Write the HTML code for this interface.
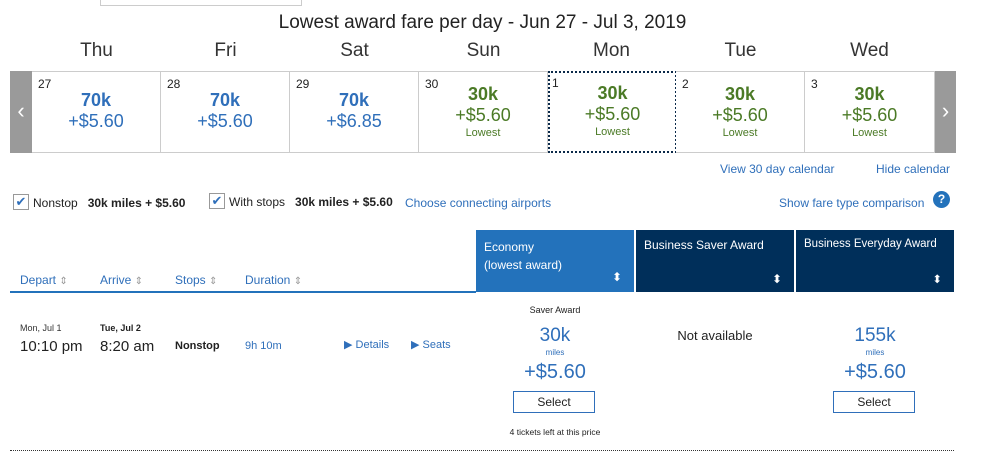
<!DOCTYPE html>
<html><head><meta charset="utf-8"><style>
body{margin:0;width:986px;height:452px;background:#fff;font-family:"Liberation Sans",sans-serif;position:relative;overflow:hidden;color:#222}
.a{position:absolute}
.c{text-align:center}
.day{top:40px;font-size:19px;color:#333;width:129px}
.cell{top:71px;height:80px;width:128px;border:1px solid #ccc;border-left:none;background:#fff}
.num{left:6px;top:5px;font-size:12px;color:#222}
.mi{top:18px;width:100%;font-size:18px;font-weight:bold}
.pr{top:39px;width:100%;font-size:18px}
.lo{top:61px;width:100%;font-size:11px}
.b{color:#2f6fba}.g{color:#4b7a26}
.link{color:#2f6fba;font-size:12px}
.hd{top:230px;height:62px;color:#fff;font-size:12px;box-sizing:border-box;padding:8px 8px;white-space:nowrap}
.sort{font-size:10px}
.col{color:#2f6fba;font-size:12px;top:273px}
.btn{width:82px;height:22px;border:1px solid #2f6fba;box-sizing:border-box;font-size:12px;line-height:20px;text-align:center;color:#222;background:#fff}
</style></head><body>
<div class="a" style="left:100px;top:-2px;width:200px;height:6px;border:1px solid #ccc;"></div>
<div class="a c" style="left:0;width:965px;top:12px;font-size:19px;color:#222">Lowest award fare per day - Jun 27 - Jul 3, 2019</div>

<div class="a c day" style="left:32px">Thu</div>
<div class="a c day" style="left:161px">Fri</div>
<div class="a c day" style="left:290px">Sat</div>
<div class="a c day" style="left:419px">Sun</div>
<div class="a c day" style="left:547px">Mon</div>
<div class="a c day" style="left:676px">Tue</div>
<div class="a c day" style="left:805px">Wed</div>

<div class="a c" style="left:10px;top:71px;width:22px;height:82px;background:#9a9a9a;color:#fff;font-size:22px;line-height:80px">‹</div>
<div class="a c" style="left:935px;top:71px;width:21px;height:82px;background:#9a9a9a;color:#fff;font-size:22px;line-height:80px">›</div>

<div class="a cell" style="left:32px;border-left:none"><div class="a num">27</div><div class="a c mi b">70k</div><div class="a c pr b">+$5.60</div></div>
<div class="a cell" style="left:161px"><div class="a num">28</div><div class="a c mi b">70k</div><div class="a c pr b">+$5.60</div></div>
<div class="a cell" style="left:290px"><div class="a num">29</div><div class="a c mi b">70k</div><div class="a c pr b">+$6.85</div></div>
<div class="a cell" style="left:419px"><div class="a num">30</div><div class="a c mi g" style="top:12px">30k</div><div class="a c pr g" style="top:33px">+$5.60</div><div class="a c lo g" style="top:55px">Lowest</div></div>
<div class="a cell" style="left:548px;border:2px dotted #0b2a4a;width:125px;height:78px;top:71px"><div class="a num" style="left:2px;top:3px">1</div><div class="a c mi g" style="top:10px">30k</div><div class="a c pr g" style="top:31px">+$5.60</div><div class="a c lo g" style="top:53px">Lowest</div></div>
<div class="a cell" style="left:676px"><div class="a num">2</div><div class="a c mi g" style="top:12px">30k</div><div class="a c pr g" style="top:33px">+$5.60</div><div class="a c lo g" style="top:55px">Lowest</div></div>
<div class="a cell" style="left:805px;width:129px"><div class="a num">3</div><div class="a c mi g" style="top:12px">30k</div><div class="a c pr g" style="top:33px">+$5.60</div><div class="a c lo g" style="top:55px">Lowest</div></div>

<div class="a link" style="left:720px;top:162px">View 30 day calendar</div>
<div class="a link" style="left:876px;top:162px">Hide calendar</div>

<div class="a" style="left:13px;top:194px;width:14px;height:14px;border:1px solid #999;color:#2f6fba;font-size:13px;line-height:14px;text-align:center">✔</div>
<div class="a" style="left:33px;top:196px;font-size:12px;white-space:nowrap">Nonstop &nbsp;&nbsp;<b>30k miles + $5.60</b></div>
<div class="a" style="left:209px;top:193px;width:14px;height:14px;border:1px solid #999;color:#2f6fba;font-size:13px;line-height:14px;text-align:center">✔</div>
<div class="a" style="left:229px;top:195px;font-size:12px;white-space:nowrap">With stops &nbsp;&nbsp;<b>30k miles + $5.60</b></div>
<div class="a link" style="left:405px;top:196px">Choose connecting airports</div>
<div class="a link" style="left:779px;top:196px">Show fare type comparison</div>
<div class="a c" style="left:933px;top:191px;width:17px;height:17px;border-radius:50%;background:#2372bb;color:#fff;font-size:12px;font-weight:bold;line-height:17px">?</div>

<div class="a col" style="left:20px">Depart <span class="sort" style="color:#999">⇕</span></div>
<div class="a col" style="left:100px">Arrive <span class="sort" style="color:#999">⇕</span></div>
<div class="a col" style="left:175px">Stops <span class="sort" style="color:#999">⇕</span></div>
<div class="a col" style="left:245px">Duration <span class="sort" style="color:#999">⇕</span></div>
<div class="a" style="left:10px;top:291px;width:466px;height:2px;background:#2372bb"></div>

<div class="a hd" style="left:476px;width:158px;background:#2372bb;line-height:18px">Economy<br>(lowest award)<span class="a" style="right:12px;bottom:6px">⬍</span></div>
<div class="a hd" style="left:636px;width:158px;background:#002f5a">Business Saver Award<span class="a" style="right:12px;bottom:6px">⬍</span></div>
<div class="a hd" style="left:796px;width:158px;background:#002f5a;font-size:11.5px">Business Everyday Award<span class="a" style="right:12px;bottom:6px">⬍</span></div>

<div class="a" style="left:20px;top:323px;font-size:9px;color:#333">Mon, Jul 1</div>
<div class="a" style="left:20px;top:338px;font-size:15px">10:10 pm</div>
<div class="a" style="left:100px;top:323px;font-size:9px;font-weight:bold">Tue, Jul 2</div>
<div class="a" style="left:100px;top:338px;font-size:15px">8:20 am</div>
<div class="a" style="left:175px;top:340px;font-size:11px;font-weight:bold">Nonstop</div>
<div class="a" style="left:245px;top:340px;font-size:11px;color:#2f6fba">9h 10m</div>
<div class="a" style="left:344px;top:338px;font-size:11px;color:#2f6fba">▶ Details</div>
<div class="a" style="left:411px;top:338px;font-size:11px;color:#2f6fba">▶ Seats</div>

<div class="a c" style="left:476px;width:158px;top:305px;font-size:9px">Saver Award</div>
<div class="a c" style="left:476px;width:158px;top:325px;font-size:19px;color:#2f6fba">30k</div>
<div class="a c" style="left:476px;width:158px;top:348px;font-size:8px;color:#2f6fba">miles</div>
<div class="a c" style="left:476px;width:158px;top:361px;font-size:20px;color:#2f6fba">+$5.60</div>
<div class="a btn" style="left:513px;top:391px">Select</div>
<div class="a c" style="left:476px;width:158px;top:427px;font-size:8.5px">4 tickets left at this price</div>

<div class="a c" style="left:636px;width:158px;top:328px;font-size:13px">Not available</div>

<div class="a c" style="left:796px;width:158px;top:325px;font-size:19px;color:#2f6fba">155k</div>
<div class="a c" style="left:796px;width:158px;top:348px;font-size:8px;color:#2f6fba">miles</div>
<div class="a c" style="left:796px;width:158px;top:361px;font-size:20px;color:#2f6fba">+$5.60</div>
<div class="a btn" style="left:833px;top:391px">Select</div>

<div class="a" style="left:10px;top:450px;width:944px;border-top:1px dotted #333"></div>
</body></html>
